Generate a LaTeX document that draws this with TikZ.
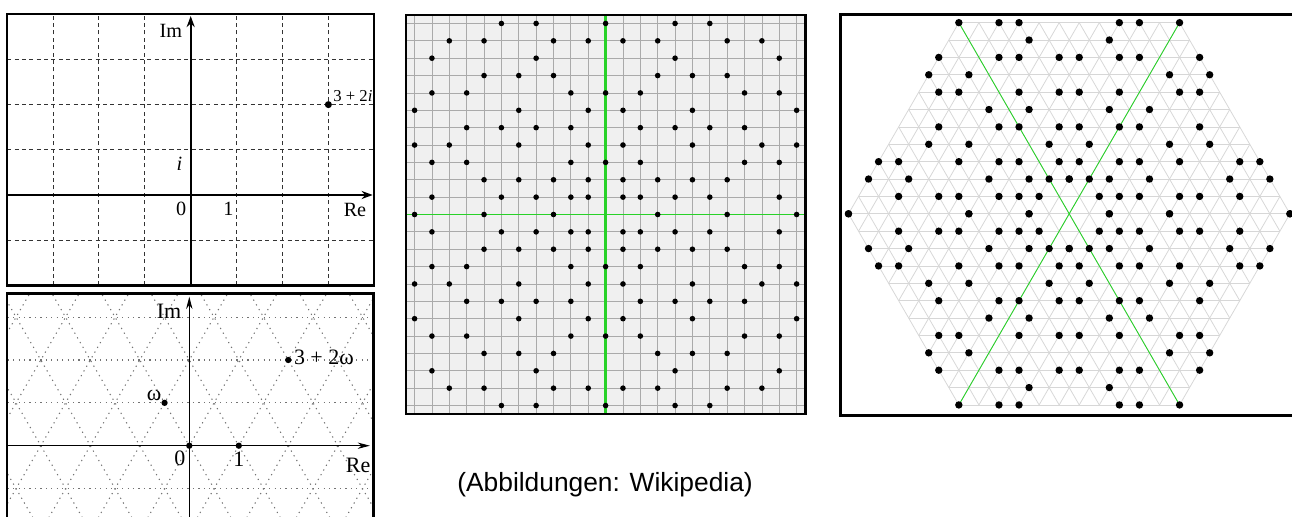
\documentclass[tikz,border=0pt]{standalone}
\usepackage{fontspec}
\setmainfont{Liberation Serif}
\newfontfamily\capfont{Liberation Sans}
\usetikzlibrary{arrows.meta}

\definecolor{primegreen}{RGB}{40,210,40}
\definecolor{gridgray}{RGB}{170,170,170}
\definecolor{hexgray}{RGB}{215,215,215}
\definecolor{panelfill}{RGB}{240,240,240}

\tikzset{
  frame/.style={line width=1.4pt},
  gline/.style={dash pattern=on 2.3pt off 1.9pt, black!80, line width=0.5pt},
  eline/.style={dash pattern=on 0.7pt off 2.4pt, black!55, line width=0.6pt},
  gaxis/.style={-{Stealth[length=6.3pt,width=4.6pt]}, line width=1pt},
  eaxis/.style={-{Stealth[length=7pt,width=3.6pt]}, line width=0.6pt},
  glab/.style={font=\fontsize{11.5}{13}\selectfont, inner sep=0pt},
  elab/.style={font=\fontsize{12.5}{14}\selectfont, inner sep=0pt},
  achse/.style={primegreen, line width=1pt},
}

\begin{document}
\begin{tikzpicture}[x=0.02cm,y=-0.02cm]
  \useasboundingbox (0,0) rectangle (1292,517);

  % Gauss'sche Zahlen
  \begin{scope}[shift={(190.7,195)},x=0.918cm,y=0.904cm]
    \foreach \x in {-3,-2,-1,1,2,3} \draw[gline] (\x,-2) -- (\x,4);
    \foreach \y in {-1,1,2,3} \draw[gline] (-4,\y) -- (4,\y);
    \coordinate (G0) at (0,0);
    \coordinate (Gz) at (3,2);
    \draw[gaxis] (-4,0) -- (3.965,0);
    \draw[gaxis] (0,-2) -- (0,3.96);
    \fill (Gz) circle (2pt);
    \node[glab] (gim) at (-0.43,3.64) {Im};
    \node[glab] (gi) at (-0.244,0.686) {\textit{i}};
    \node[glab] (gnull) at (-0.21,-0.31) {0};
    \node[glab] (geins) at (0.82,-0.31) {1};
    \node[glab] (gre) at (3.58,-0.33) {Re};
    \node[font=\fontsize{9.5}{11}\selectfont, inner sep=0pt, anchor=west] (gzl) at (3.10,2.2) {3 + 2\textit{i}};
    \draw[frame] (-4,-2) rectangle (4,4);
  \end{scope}

  % Eisenstein-Zahlen
  \begin{scope}[shift={(189.3,445.7)},x=0.99cm,y=0.99cm]
    \begin{scope}
      \clip (-3.683,-1.7) rectangle (3.721,3.079);
      \foreach \k in {-1,1,2,3} \draw[eline] (-4,{\k*0.866}) -- (4,{\k*0.866});
      \foreach \n in {-7,...,7} {
        \draw[eline] ({\n-1.5},{-1.5*1.732}) -- ({\n+2.5},{2.5*1.732});
        \draw[eline] ({\n+1.5},{-1.5*1.732}) -- ({\n-2.5},{2.5*1.732});
      }
    \end{scope}
    \draw[eaxis] (-3.683,0) -- (3.65,0);
    \draw[eaxis] (0,-1.7) -- (0,3.01);
    \coordinate (E0) at (0,0);
    \coordinate (E1) at (1,0);
    \coordinate (Ew) at (-0.5,0.866);
    \coordinate (Ez) at (2,1.732);
    \foreach \p in {E0,E1,Ew,Ez} \fill (\p) circle (1.8pt);
    \node[elab] (eim) at (-0.41,2.72) {Im};
    \node[elab] (enull) at (-0.19,-0.255) {0};
    \node[elab] (eeins) at (1.0,-0.27) {1};
    \node[elab] (ere) at (3.41,-0.39) {Re};
    \node[elab] (ew) at (-0.71,1.02) {ω};
    \node[elab] (ezl) at (2.72,1.79) {3 + 2ω};
    \draw[frame] (-3.683,-1.8) -- (-3.683,3.079) -- (3.721,3.079) -- (3.721,-1.8);
  \end{scope}

  % Gauss'sche Primzahlen
  \begin{scope}[shift={(605.6,214.5)},x=0.3474cm,y=0.3474cm]
    \fill[panelfill] (-11.5,-11.5) rectangle (11.5,11.5);
    \foreach \t in {-11,...,-1,1,2,...,11} {
      \draw[gridgray, line width=0.45pt] (\t,-11.5) -- (\t,11.5);
      \draw[gridgray, line width=0.45pt] (-11.5,\t) -- (11.5,\t);
    }
    \coordinate (GPl) at (-11.5,0);
    \coordinate (GPr) at (11.5,0);
    \coordinate (GPu) at (0,-11.5);
    \coordinate (GPo) at (0,11.5);
    \draw[achse] (GPl) -- (GPr);
    \draw[achse, line width=1.4pt] (GPu) -- (GPo);
    \foreach \a/\b in {1/1,1/2,1/4,1/6,1/10,2/1,2/3,2/5,2/7,3/2,3/8,3/10,
                       4/1,4/5,4/9,4/11,5/2,5/4,5/6,5/8,6/1,6/5,6/11,7/2,7/8,7/10,
                       8/3,8/5,8/7,9/4,9/10,10/1,10/3,10/7,10/9,11/4,11/6}
      \foreach \sx in {1,-1}
        \foreach \sy in {1,-1}
          \fill (\sx*\a,\sy*\b) circle (0.056cm);
    \foreach \p in {3,7,11} {
      \fill (\p,0) circle (0.056cm);
      \fill (-\p,0) circle (0.056cm);
      \fill (0,\p) circle (0.056cm);
      \fill (0,-\p) circle (0.056cm);
    }
    \draw[frame] (-11.5,-11.5) rectangle (11.5,11.5);
  \end{scope}

  % Eisenstein-Primzahlen
  \begin{scope}[shift={(1069.2,213.8)},x=0.4014cm,y=0.4014cm]
    \foreach \r in {0,60,120}
      \foreach \k in {-11,...,11}
        \draw[hexgray, line width=0.45pt, rotate=\r]
          ({-11+abs(\k)/2},{\k*0.866}) -- ({11-abs(\k)/2},{\k*0.866});
    \draw[primegreen, line width=0.5pt] (-5.5,{11*0.866}) -- (5.5,{-11*0.866});
    \draw[primegreen, line width=0.5pt] (5.5,{11*0.866}) -- (-5.5,{-11*0.866});
    \foreach \x/\k in {2/0,5/0,11/0,
                       1.5/1,2.5/1,3.5/1,5.5/1,6.5/1,8.5/1,
                       0/2,1/2,2/2,4/2,8/2,10/2,
                       0.5/3,2.5/3,3.5/3,5.5/3,8.5/3,9.5/3,
                       1/4,5/4,7/4,
                       0.5/5,2.5/5,3.5/5,6.5/5,
                       2/6,4/6,
                       0.5/7,2.5/7,5.5/7,6.5/7,
                       5/8,7/8,
                       0.5/9,2.5/9,3.5/9,6.5/9,
                       2/10,
                       2.5/11,3.5/11,5.5/11}
      \foreach \sx in {1,-1}
        \foreach \sy in {1,-1}
          \fill (\sx*\x,{\sy*\k*0.866}) circle (0.074cm);
  \end{scope}
  \draw[frame] (1300,14.5) -- (840.3,14.5) -- (840.3,415.3) -- (1300,415.3);

  \node[font=\capfont\fontsize{15}{18}\selectfont, anchor=base west, inner sep=0pt]
    (quelle) at (457,491.7) {(Abbildungen: Wikipedia)};
\end{tikzpicture}
\end{document}
